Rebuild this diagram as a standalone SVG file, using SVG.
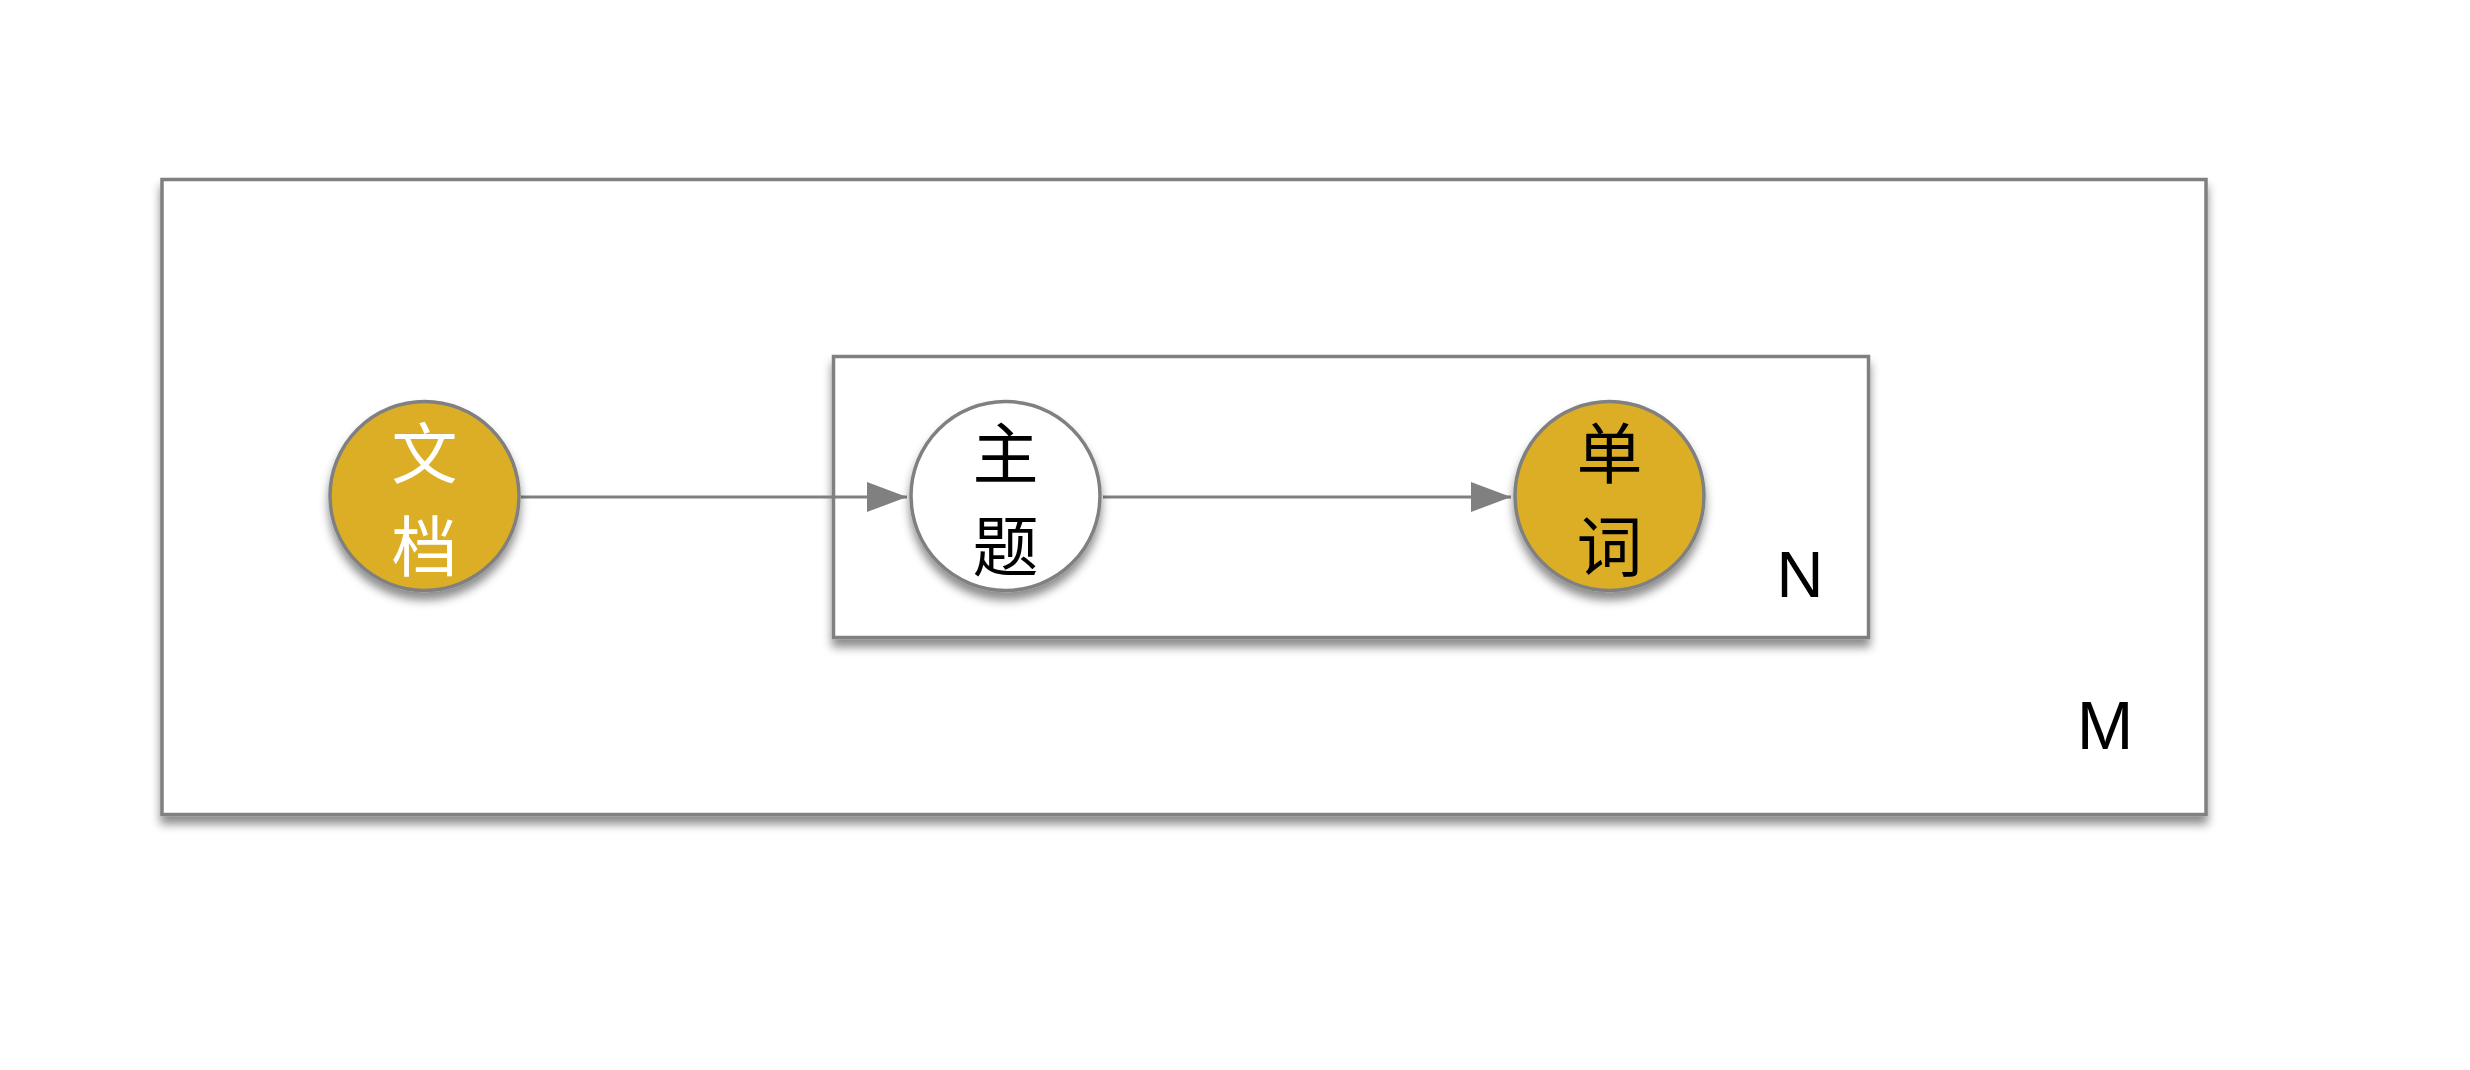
<svg xmlns="http://www.w3.org/2000/svg" width="2470" height="1070" viewBox="0 0 2470 1070">
<style>
.frame{fill:#ffffff;stroke:#808080;stroke-width:3.5;}
.node{stroke:#808080;stroke-width:3.5;}
.gold{fill:#DCAE27;}
.white{fill:#ffffff;}
.edge{stroke:#808080;stroke-width:3;fill:none;}
.cjk{font-family:"Noto Sans CJK SC","Noto Sans",sans-serif;font-size:66px;text-anchor:middle;}
.lat{font-family:"Liberation Sans",Arial,sans-serif;fill:#000;}
</style>
<defs>
<filter id="sh" x="-20%" y="-20%" width="140%" height="150%">
<feDropShadow dx="0" dy="8" stdDeviation="5" flood-color="#000" flood-opacity="0.45"/>
</filter>
<marker id="arr" viewBox="0 0 40 30" refX="40" refY="15" markerWidth="40" markerHeight="30" markerUnits="userSpaceOnUse" orient="auto">
<path d="M0,0 L40,15 L0,30 Z" fill="#808080"/>
</marker>
</defs>
<rect width="2470" height="1070" fill="#ffffff"/>
<g id="plate-M">
<rect class="frame" x="162" y="179.5" width="2044" height="635" filter="url(#sh)"/>
<text class="lat" x="2105" y="749" font-size="68" text-anchor="middle">M</text>
</g>
<g id="plate-N">
<rect class="frame" x="833.5" y="356.5" width="1035" height="281" filter="url(#sh)"/>
<text class="lat" x="1800" y="596.5" font-size="65" text-anchor="middle">N</text>
</g>
<g id="connectors">
<line class="edge" x1="521" y1="497" x2="907" y2="497" marker-end="url(#arr)"/>
<line class="edge" x1="1103" y1="497" x2="1511" y2="497" marker-end="url(#arr)"/>
</g>
<g id="node-doc">
<circle class="node gold" cx="424.5" cy="496" r="94.5" filter="url(#sh)"/>
<text class="cjk" x="424.5" y="478" fill="#ffffff">文</text>
<text class="cjk" x="424.5" y="571" fill="#ffffff">档</text>
</g>
<g id="node-topic">
<circle class="node white" cx="1005.5" cy="496" r="94.5" filter="url(#sh)"/>
<text class="cjk" x="1005.5" y="478" fill="#000000">主</text>
<text class="cjk" x="1005.5" y="571" fill="#000000">题</text>
</g>
<g id="node-word">
<circle class="node gold" cx="1609.5" cy="496" r="94.5" filter="url(#sh)"/>
<text class="cjk" x="1609.5" y="478" fill="#000000">单</text>
<text class="cjk" x="1609.5" y="571" fill="#000000">词</text>
</g>
</svg>
